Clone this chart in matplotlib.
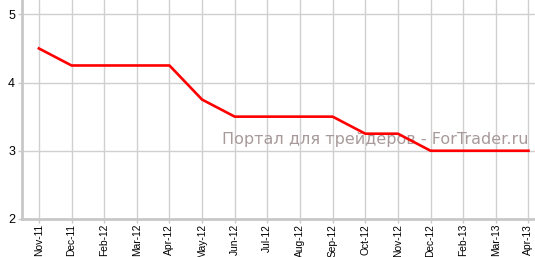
import matplotlib
matplotlib.use("Agg")
import matplotlib.pyplot as plt

# Данные
meses = ['Nov-11', 'Dec-11', 'Feb-12', 'Mar-12', 'Apr-12', 'May-12', 'Jun-12', 'Jul-12',
         'Aug-12', 'Sep-12', 'Oct-12', 'Nov-12', 'Dec-12', 'Feb-13', 'Mar-13', 'Apr-13']
taxa = [4.5, 4.25, 4.25, 4.25, 4.25, 3.75, 3.5, 3.5, 3.5, 3.5, 3.25, 3.25, 3.0, 3.0, 3.0, 3.0]
y_ticks = [2, 3, 4, 5]

plt.rcParams['font.family'] = ['Liberation Sans', 'DejaVu Sans']

fig = plt.figure(figsize=(5.35, 2.57), dpi=100)
ax = fig.add_axes([0.041, 0.148, 0.959, 0.852])

x = list(range(len(meses)))
ax.plot(x, taxa, color='#ff0000', linewidth=1.9, zorder=3)

ax.set_xlim(-0.52, 15.2)
ax.set_ylim(2, 5.21)
ax.set_xticks(x)
ax.set_xticklabels(meses, rotation=90, fontsize=7.4)
ax.set_yticks(y_ticks)
ax.set_yticklabels([str(v) for v in y_ticks], fontsize=9)

ax.grid(color='#d0d0d0', linewidth=1)
ax.set_axisbelow(True)
for lado in ['top', 'right']:
    ax.spines[lado].set_visible(False)
for lado in ['left', 'bottom']:
    ax.spines[lado].set_color('#c8c8c8')
    ax.spines[lado].set_linewidth(2)
ax.tick_params(axis='both', color='#c8c8c8', length=3, width=1, pad=2)
ax.tick_params(axis='x', pad=0.5)

ax.text(15, 3.17, 'Портал для трейдеров - ForTrader.ru', ha='right', va='center',
        fontsize=11.5, color='#a89a9a', family=['DejaVu Sans'], zorder=2)

fig.savefig('out.png', dpi=100)
